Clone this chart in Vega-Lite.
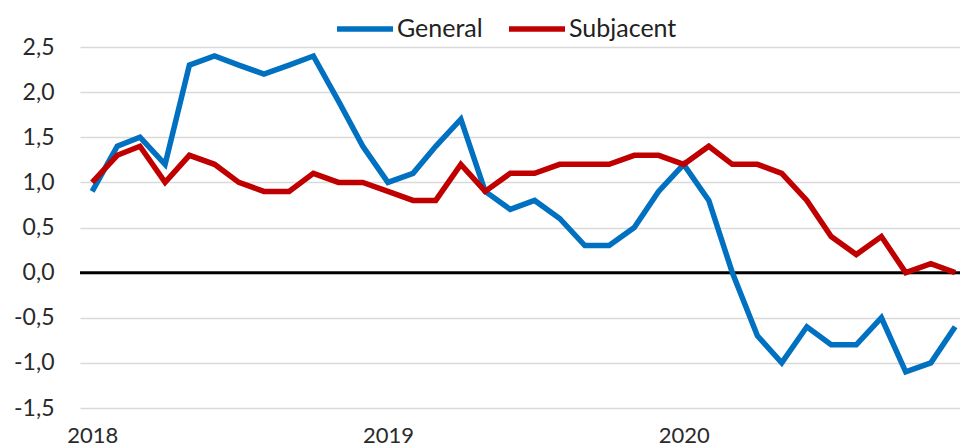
{
  "$schema": "https://vega.github.io/schema/vega-lite/v6.json",
  "width": 880,
  "height": 361,
  "autosize": "none",
  "padding": {"left": 80, "top": 47, "right": 0, "bottom": 40},
  "background": "white",
  "config": {
    "view": {"stroke": null},
    "font": "Lato",
    "axis": {"labelFont": "Lato", "labelColor": "#2a2a2a"}
  },
  "datasets": {
    "series": [
      {"date": "2018-01-01", "serie": "General", "value": 0.9},
      {"date": "2018-02-01", "serie": "General", "value": 1.4},
      {"date": "2018-03-01", "serie": "General", "value": 1.5},
      {"date": "2018-04-01", "serie": "General", "value": 1.2},
      {"date": "2018-05-01", "serie": "General", "value": 2.3},
      {"date": "2018-06-01", "serie": "General", "value": 2.4},
      {"date": "2018-07-01", "serie": "General", "value": 2.3},
      {"date": "2018-08-01", "serie": "General", "value": 2.2},
      {"date": "2018-09-01", "serie": "General", "value": 2.3},
      {"date": "2018-10-01", "serie": "General", "value": 2.4},
      {"date": "2018-11-01", "serie": "General", "value": 1.9},
      {"date": "2018-12-01", "serie": "General", "value": 1.4},
      {"date": "2019-01-01", "serie": "General", "value": 1.0},
      {"date": "2019-02-01", "serie": "General", "value": 1.1},
      {"date": "2019-03-01", "serie": "General", "value": 1.4},
      {"date": "2019-04-01", "serie": "General", "value": 1.7},
      {"date": "2019-05-01", "serie": "General", "value": 0.9},
      {"date": "2019-06-01", "serie": "General", "value": 0.7},
      {"date": "2019-07-01", "serie": "General", "value": 0.8},
      {"date": "2019-08-01", "serie": "General", "value": 0.6},
      {"date": "2019-09-01", "serie": "General", "value": 0.3},
      {"date": "2019-10-01", "serie": "General", "value": 0.3},
      {"date": "2019-11-01", "serie": "General", "value": 0.5},
      {"date": "2019-12-01", "serie": "General", "value": 0.9},
      {"date": "2020-01-01", "serie": "General", "value": 1.2},
      {"date": "2020-02-01", "serie": "General", "value": 0.8},
      {"date": "2020-03-01", "serie": "General", "value": 0.0},
      {"date": "2020-04-01", "serie": "General", "value": -0.7},
      {"date": "2020-05-01", "serie": "General", "value": -1.0},
      {"date": "2020-06-01", "serie": "General", "value": -0.6},
      {"date": "2020-07-01", "serie": "General", "value": -0.8},
      {"date": "2020-08-01", "serie": "General", "value": -0.8},
      {"date": "2020-09-01", "serie": "General", "value": -0.5},
      {"date": "2020-10-01", "serie": "General", "value": -1.1},
      {"date": "2020-11-01", "serie": "General", "value": -1.0},
      {"date": "2020-12-01", "serie": "General", "value": -0.6},
      {"date": "2018-01-01", "serie": "Subjacent", "value": 1.0},
      {"date": "2018-02-01", "serie": "Subjacent", "value": 1.3},
      {"date": "2018-03-01", "serie": "Subjacent", "value": 1.4},
      {"date": "2018-04-01", "serie": "Subjacent", "value": 1.0},
      {"date": "2018-05-01", "serie": "Subjacent", "value": 1.3},
      {"date": "2018-06-01", "serie": "Subjacent", "value": 1.2},
      {"date": "2018-07-01", "serie": "Subjacent", "value": 1.0},
      {"date": "2018-08-01", "serie": "Subjacent", "value": 0.9},
      {"date": "2018-09-01", "serie": "Subjacent", "value": 0.9},
      {"date": "2018-10-01", "serie": "Subjacent", "value": 1.1},
      {"date": "2018-11-01", "serie": "Subjacent", "value": 1.0},
      {"date": "2018-12-01", "serie": "Subjacent", "value": 1.0},
      {"date": "2019-01-01", "serie": "Subjacent", "value": 0.9},
      {"date": "2019-02-01", "serie": "Subjacent", "value": 0.8},
      {"date": "2019-03-01", "serie": "Subjacent", "value": 0.8},
      {"date": "2019-04-01", "serie": "Subjacent", "value": 1.2},
      {"date": "2019-05-01", "serie": "Subjacent", "value": 0.9},
      {"date": "2019-06-01", "serie": "Subjacent", "value": 1.1},
      {"date": "2019-07-01", "serie": "Subjacent", "value": 1.1},
      {"date": "2019-08-01", "serie": "Subjacent", "value": 1.2},
      {"date": "2019-09-01", "serie": "Subjacent", "value": 1.2},
      {"date": "2019-10-01", "serie": "Subjacent", "value": 1.2},
      {"date": "2019-11-01", "serie": "Subjacent", "value": 1.3},
      {"date": "2019-12-01", "serie": "Subjacent", "value": 1.3},
      {"date": "2020-01-01", "serie": "Subjacent", "value": 1.2},
      {"date": "2020-02-01", "serie": "Subjacent", "value": 1.4},
      {"date": "2020-03-01", "serie": "Subjacent", "value": 1.2},
      {"date": "2020-04-01", "serie": "Subjacent", "value": 1.2},
      {"date": "2020-05-01", "serie": "Subjacent", "value": 1.1},
      {"date": "2020-06-01", "serie": "Subjacent", "value": 0.8},
      {"date": "2020-07-01", "serie": "Subjacent", "value": 0.4},
      {"date": "2020-08-01", "serie": "Subjacent", "value": 0.2},
      {"date": "2020-09-01", "serie": "Subjacent", "value": 0.4},
      {"date": "2020-10-01", "serie": "Subjacent", "value": 0.0},
      {"date": "2020-11-01", "serie": "Subjacent", "value": 0.1},
      {"date": "2020-12-01", "serie": "Subjacent", "value": 0.0}
    ]
  },
  "layer": [
    {
      "data": {"name": "series"},
      "mark": {"type": "rule", "opacity": 0},
      "encoding": {
        "y": {
          "field": "value",
          "type": "quantitative",
          "scale": {"domain": [-1.5, 2.5], "nice": false, "zero": false},
          "axis": {
            "title": null,
            "values": [-1.5, -1.0, -0.5, 0, 0.5, 1.0, 1.5, 2.0, 2.5],
            "labelExpr": "replace(replace(format(datum.value, '.1f'), '.', ','), '\u2212', '-')",
            "labelFontSize": 23,
            "labelPadding": 26,
            "ticks": false,
            "domain": false,
            "grid": true,
            "gridColor": "#d9d9d9",
            "gridWidth": 1.3
          }
        }
      }
    },
    {
      "data": {"values": [{"zero": 0}]},
      "mark": {"type": "rule", "color": "#000000", "strokeWidth": 3},
      "encoding": {"y": {"field": "zero", "type": "quantitative"}}
    },
    {
      "data": {"name": "series"},
      "mark": {"type": "line", "strokeWidth": 5.5, "strokeJoin": "miter", "strokeCap": "butt"},
      "encoding": {
        "x": {
          "field": "date",
          "type": "temporal",
          "scale": {
            "type": "utc",
            "domain": [
              {"year": 2017, "month": 12, "date": 17, "utc": true},
              {"year": 2020, "month": 12, "date": 7, "utc": true}
            ]
          },
          "axis": {
            "title": null,
            "values": [
              {"year": 2018, "month": 1, "date": 1, "utc": true},
              {"year": 2019, "month": 1, "date": 1, "utc": true},
              {"year": 2020, "month": 1, "date": 1, "utc": true}
            ],
            "format": "%Y",
            "labelFontSize": 22,
            "labelPadding": 17,
            "ticks": false,
            "domain": false,
            "grid": false
          }
        },
        "y": {"field": "value", "type": "quantitative"},
        "color": {
          "field": "serie",
          "type": "nominal",
          "scale": {"domain": ["General", "Subjacent"], "range": ["#0070C0", "#C00000"]},
          "legend": {
            "title": null,
            "orient": "none",
            "direction": "horizontal",
            "legendX": 254,
            "legendY": -49,
            "symbolType": "stroke",
            "symbolSize": 3136,
            "symbolStrokeWidth": 5.5,
            "labelFontSize": 25,
            "labelColor": "#222222",
            "labelOffset": 1,
            "columnPadding": 15
          }
        }
      }
    }
  ]
}
